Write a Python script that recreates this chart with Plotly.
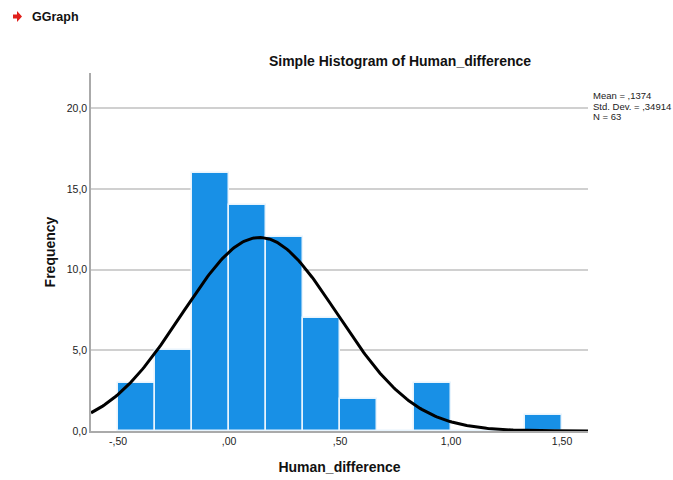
import numpy as np
import plotly.graph_objects as go

# Data
bin_edges_start = -0.5
bin_width = 1/6
counts = [3, 5, 16, 14, 12, 7, 2, 0, 3, 0, 0, 1]
mean_val = 0.1374
sd_val = 0.34914
n_val = 63
x_tickvals = [-0.5, 0.0, 0.5, 1.0, 1.5]
x_ticktext = ["-,50", ",00", ",50", "1,00", "1,50"]
y_tickvals = [0, 5, 10, 15, 20]
y_ticktext = ["0,0", "5,0", "10,0", "15,0", "20,0"]
stats_lines = ["Mean = ,1374", "Std. Dev. = ,34914", "N = 63"]

centers = [bin_edges_start + bin_width * (i + 0.5) for i in range(len(counts))]

xr = [-0.622, 1.617]
xs = np.linspace(xr[0], xr[1], 300)
ys = n_val * bin_width * np.exp(-0.5 * ((xs - mean_val) / sd_val) ** 2) / (sd_val * np.sqrt(2 * np.pi))

L, R, T, B = 91, 588, 73, 431
W, H = 673, 480


def px(x):
    return (x - L) / (R - L)


def py(y):
    return (B - y) / (B - T)


fig = go.Figure()
fig.add_trace(go.Bar(x=centers, y=counts, width=bin_width,
                     marker=dict(color="#1890E6", line=dict(color="#E8F4FD", width=1.5)),
                     hoverinfo="skip"))
fig.add_trace(go.Scatter(x=xs, y=ys, mode="lines", line=dict(color="black", width=3), hoverinfo="skip"))

font = "Liberation Sans, Arial, sans-serif"
fig.update_layout(
    template="none",
    width=W, height=H,
    margin=dict(l=L, r=W - R, t=T, b=H - B, autoexpand=False),
    paper_bgcolor="white", plot_bgcolor="white",
    showlegend=False,
    font=dict(family=font, size=10.5, color="#222"),
    bargap=0,
    title=dict(text="<b>Simple Histogram of Human_difference</b>", x=400 / W, xanchor="center",
               xref="container", yref="container",
               y=1 - 61 / H, yanchor="middle", font=dict(size=14, color="#111")),
    xaxis=dict(range=xr, tickvals=x_tickvals, ticktext=x_ticktext, showgrid=False,
               zeroline=False, showline=True, linecolor="#aaaaaa", linewidth=1.5,
               ticks="", ticklen=0, automargin=False,
               title=dict(text="<b>Human_difference</b>", font=dict(size=14, color="#111"), standoff=16)),
    yaxis=dict(range=[0, 22.2], tickvals=y_tickvals, ticktext=y_ticktext, showgrid=True,
               gridcolor="#d0d0d0", gridwidth=1.5, zeroline=False, showline=True,
               linecolor="#aaaaaa", linewidth=1.5, ticks="", ticklen=0, automargin=False,
               title=dict(text="<b>Frequency</b>", font=dict(size=14, color="#111"), standoff=8)),
)

for i, line in enumerate(stats_lines):
    fig.add_annotation(xref="paper", yref="paper", x=px(592), y=py(95.5 + 10.5 * i),
                       xanchor="left", yanchor="middle", showarrow=False, align="left",
                       borderpad=0, text=line, font=dict(size=9.5, color="#222"))

# GGraph header
fig.add_annotation(xref="paper", yref="paper", x=px(30), y=py(17), xanchor="left", yanchor="middle",
                   showarrow=False, text="<b>GGraph</b>", font=dict(size=12.5, color="#111"))
pts = [(13, 14.5), (17, 14.5), (17, 11), (22, 16.5), (17, 22), (17, 18.5), (13, 18.5)]
path = "M " + " L ".join("{} {}".format(px(a), py(b)) for a, b in pts) + " Z"
fig.add_shape(type="path", xref="paper", yref="paper", path=path,
              fillcolor="#E0201B", line=dict(width=0))

fig.write_html("out.html", config={"displayModeBar": False},
               post_script="document.body.style.margin='0';document.body.style.overflow='hidden';")
